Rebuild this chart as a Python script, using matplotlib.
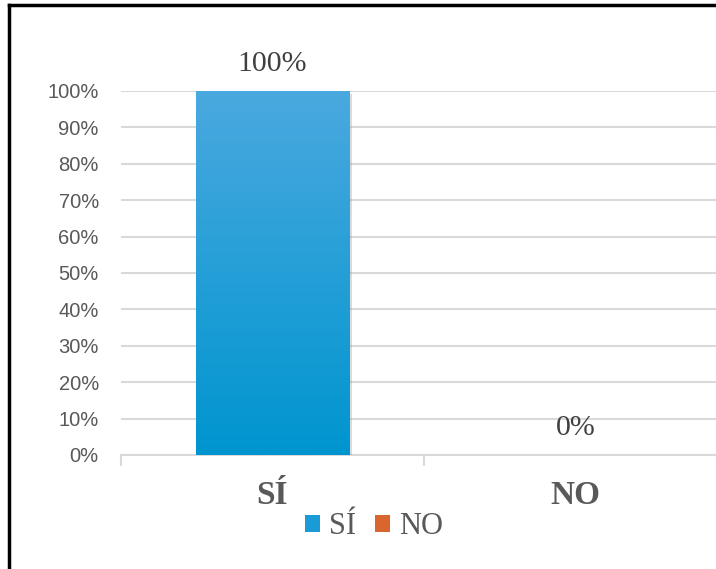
import numpy as np
import matplotlib
matplotlib.use('Agg')
import matplotlib.pyplot as plt
from matplotlib.lines import Line2D
from matplotlib.patches import Patch
import matplotlib.patheffects as pe

categories = ['SÍ', 'NO']
values = [1.0, 0.0]
value_labels = ['100%', '0%']
yticks = [0, 0.1, 0.2, 0.3, 0.4, 0.5, 0.6, 0.7, 0.8, 0.9, 1.0]
ytick_labels = ['0%', '10%', '20%', '30%', '40%', '50%', '60%', '70%', '80%', '90%', '100%']

W, H = 716, 569
fig = plt.figure(figsize=(W / 100, H / 100), dpi=100)
ax = fig.add_axes([121 / W, (H - 455) / H, (727 - 121) / W, (455 - 91) / H])

x = np.arange(len(categories))
bars = ax.bar(x, values, width=0.505, color='#2aa3dc', zorder=3,
              path_effects=[pe.SimplePatchShadow(offset=(2, -2), shadow_rgbFace='#999999', alpha=0.35), pe.Normal()])

# gradient fill on the bars
grad = np.linspace(0, 1, 256).reshape(-1, 1)
cmap = matplotlib.colors.LinearSegmentedColormap.from_list('b', ['#0095cf', '#4aa9df'])
for b in bars:
    if b.get_height() > 0:
        im = ax.imshow(grad, cmap=cmap, origin='lower', aspect='auto', zorder=4,
                       extent=[b.get_x(), b.get_x() + b.get_width(), 0, b.get_height()])
        im.set_clip_path(b)

ax.set_xlim(-0.5, 1.5)
ax.set_ylim(0, 1)
ax.set_yticks(yticks)
ax.set_yticklabels(ytick_labels, fontfamily='Liberation Sans', fontsize=14.5, color='#595959')
ax.tick_params(axis='y', length=0, pad=16)
ax.grid(axis='y', color='#d9d9d9', linewidth=1.5, zorder=0)
ax.set_axisbelow(True)
for s in ['top', 'right', 'left']:
    ax.spines[s].set_visible(False)
ax.spines['bottom'].set_color('#d9d9d9')
ax.spines['bottom'].set_linewidth(1.5)
ax.set_xticks([-0.5, 0.5, 1.5])
ax.set_xticklabels([])
ax.tick_params(axis='x', length=8, width=1.5, color='#d9d9d9')
for xi, c in zip(x, categories):
    ax.text(xi, -0.112, c, ha='center', va='center', fontfamily='Liberation Serif',
            fontweight='bold', fontsize=24, color='#595959')

for xi, v, lab in zip(x, values, value_labels):
    ax.text(xi, v + 0.075, lab, ha='center', va='center', fontfamily='Liberation Serif',
            fontsize=21.5, color='#404040')

handles = [Patch(facecolor='#1a9ad6'), Patch(facecolor='#d9662f')]
fig.legend(handles, categories, loc='center', bbox_to_anchor=(374 / W, 1 - 527 / H), ncol=2,
           frameon=False, prop={'family': 'Liberation Serif', 'size': 22},
           labelcolor='#595959', handlelength=0.5, handleheight=0.5, handletextpad=0.3,
           columnspacing=0.6)

# frame around the chart (top and left visible)
fig.add_artist(Line2D([9 / W, 9 / W], [0, 1 - 5 / H], color='black', linewidth=2.5))
fig.add_artist(Line2D([9 / W, 1], [1 - 5 / H, 1 - 5 / H], color='black', linewidth=2.5))

fig.savefig('out.png', dpi=100)
